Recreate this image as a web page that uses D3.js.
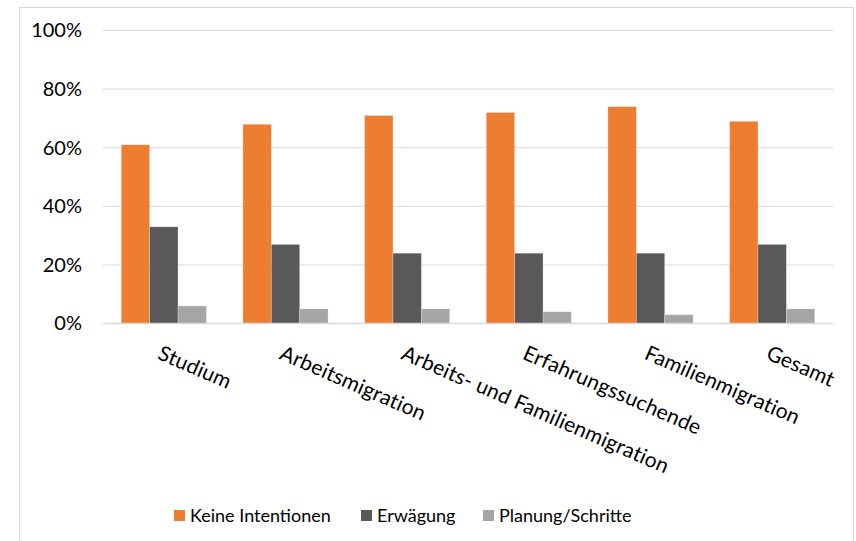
<!DOCTYPE html>
<html>
<head>
<meta charset="utf-8">
<script src="https://cdn.jsdelivr.net/npm/d3@7"></script>
<style>
  html, body { margin: 0; padding: 0; background: #fff; }
  svg { display: block; font-family: Lato, "Open Sans", sans-serif; }
</style>
</head>
<body>
<svg id="chart" width="856" height="541"></svg>
<script>
// Migrationsabsichten nach Gruppe (Anteile in %)
const categories = ["Studium", "Arbeitsmigration", "Arbeits- und Familienmigration",
                    "Erfahrungssuchende", "Familienmigration", "Gesamt"];
const seriesNames = ["Keine Intentionen", "Erwägung", "Planung/Schritte"];
const keineIntentionen = [61, 68, 71, 72, 74, 69];
const erwaegung        = [33, 27, 24, 24, 24, 27];
const planungSchritte  = [6, 5, 5, 4, 3, 5];
const yTicks = [0, 20, 40, 60, 80, 100];
const colors = ["#ED7D31", "#595959", "#A5A5A5"];

const seriesValues = [keineIntentionen, erwaegung, planungSchritte];

const svg = d3.select("#chart");

// chart frame
svg.append("rect")
  .attr("x", 19.5).attr("y", 7.5)
  .attr("width", 834).attr("height", 560)
  .attr("fill", "none").attr("stroke", "#D9D9D9").attr("stroke-width", 1);

const plot = { left: 103, right: 833, top: 30.5, bottom: 323.5 };

const x0 = d3.scaleBand().domain(categories)
  .range([plot.left, plot.right]).paddingInner(0.3).paddingOuter(0.15);
const x1 = d3.scaleBand().domain(seriesNames).range([0, x0.bandwidth()]);
const y = d3.scaleLinear().domain([0, 100]).range([plot.bottom, plot.top]);

// gridlines
svg.append("g").selectAll("line").data(yTicks.filter(t => t > 0)).join("line")
  .attr("x1", plot.left).attr("x2", plot.right)
  .attr("y1", d => y(d)).attr("y2", d => y(d))
  .attr("stroke", "#D9D9D9").attr("stroke-width", 1);

// y axis labels
const yAxis = d3.axisLeft(y).tickValues(yTicks).tickFormat(d => d + "%").tickSize(0).tickPadding(0);
const gy = svg.append("g").attr("transform", `translate(82,0)`).call(yAxis);
gy.select(".domain").remove();
gy.selectAll("text").attr("font-size", 20).attr("fill", "#000").attr("font-family", "Lato, 'Open Sans', sans-serif");

// bars
const groups = svg.append("g").selectAll("g").data(categories).join("g")
  .attr("transform", d => `translate(${x0(d)},0)`);
groups.selectAll("rect")
  .data((c, i) => seriesNames.map((s, k) => ({ s, v: seriesValues[k][i], k })))
  .join("rect")
  .attr("x", d => x1(d.s))
  .attr("width", x1.bandwidth())
  .attr("y", d => y(d.v))
  .attr("height", d => y(0) - y(d.v))
  .attr("fill", d => colors[d.k])
  .attr("stroke", "#fff").attr("stroke-opacity", 0.35).attr("stroke-width", 0.75);

// baseline
svg.append("line")
  .attr("x1", plot.left).attr("x2", plot.right)
  .attr("y1", y(0)).attr("y2", y(0))
  .attr("stroke", "#D9D9D9").attr("stroke-width", 1.5);

// category labels, rotated
svg.append("g").selectAll("text").data(categories).join("text")
  .attr("transform", d => `translate(${x0(d) + x0.bandwidth() / 2 - 1},${344}) rotate(23.5)`)
  .attr("dy", "0.75em")
  .attr("font-size", 21)
  .attr("letter-spacing", 0.2)
  .attr("fill", "#000")
  .text(d => d);

// legend
const legendItems = [
  { name: seriesNames[0], x: 174 },
  { name: seriesNames[1], x: 361 },
  { name: seriesNames[2], x: 483 }
];
const lg = svg.append("g").selectAll("g").data(legendItems).join("g")
  .attr("transform", d => `translate(${d.x},510)`);
lg.append("rect").attr("width", 11).attr("height", 11)
  .attr("fill", (d, i) => colors[i]);
lg.append("text").attr("x", 16).attr("y", 5.5).attr("dy", "0.35em")
  .attr("font-size", 18).attr("fill", "#000")
  .text(d => d.name);
</script>
</body>
</html>
